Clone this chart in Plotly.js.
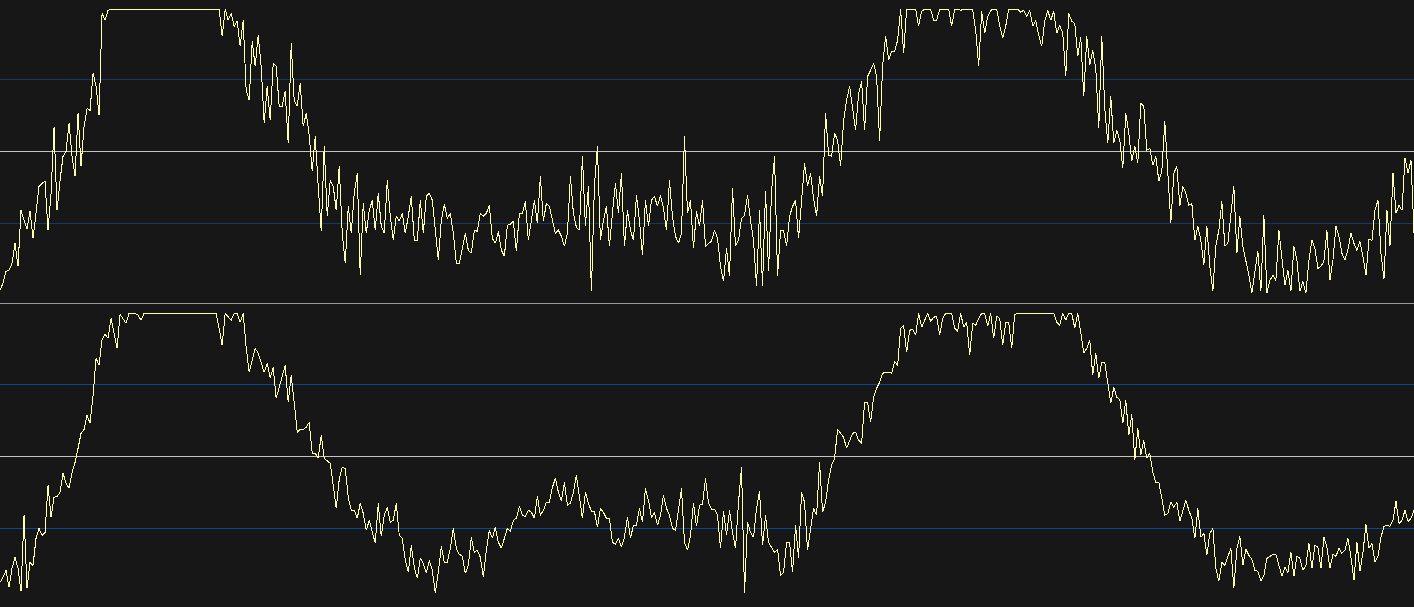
<!DOCTYPE html>
<html>
<head>
<meta charset="utf-8">
<script src="https://cdn.plot.ly/plotly-3.0.1.min.js"></script>
<style>
  html, body { margin: 0; padding: 0; background: #171717; overflow: hidden; }
  #chart { width: 1414px; height: 607px; }
  .js-line { shape-rendering: crispEdges; }
</style>
</head>
<body>
<div id="chart"></div>
<script>
// Oscillator readings, one sample per step, in the range -144..144 (gridlines at ±72).
const upperSignal = [
  -139,-132,-120,-119,-112,-92,-115,-59,-69,-78,
  -60,-87,-62,-35,-32,-30,-79,-42,24,-59,
  -29,-5,0,28,-5,-25,38,-15,25,43,
  41,78,65,36,138,131,141,
  142,142,142,142,142,142,142,142,142,142,142,142,142,142,142,142,142,142,142,
  142,142,142,142,142,142,142,142,142,142,142,142,142,142,142,142,142,142,
  115,142,131,138,125,
  130,105,131,61,51,110,85,116,85,28,
  65,31,88,85,45,45,60,8,108,51,
  45,68,25,38,16,-20,15,-35,-80,5,
  -65,-29,-35,-59,-15,-82,-112,-55,-82,-42,
  -22,-124,-52,-82,-59,-49,-79,-42,-75,-82,
  -29,-65,-89,-65,-70,-62,-82,-65,-45,-89,
  -89,-49,-82,-45,-42,-49,-79,-109,-69,-53,
  -67,-62,-82,-112,-112,-95,-82,-99,-102,
  -79,-80,-62,-65,-62,-54,-87,-92,-80,-99,
  -105,-74,-73,-70,-100,-62,-62,-50,-89,-69,
  -49,-72,-25,-70,-52,-55,-69,-82,-79,-85,
  -95,-82,-25,-62,-76,-79,-5,-75,-35,-140,
  -35,5,-89,-69,-55,-95,-62,-32,-62,-22,
  -95,-59,-79,-89,-44,-69,-104,-49,-75,-49,
  -45,-55,-44,-57,-79,-29,-65,-85,-92,-82,
  15,-62,-49,-97,-60,-75,-49,-95,
  -92,-90,-79,-87,-115,-130,-97,-125,-37,-95,
  -89,-67,-64,-44,-69,-89,-135,-59,-135,-40,
  -120,-40,-5,-125,-79,-79,-95,-65,-55,-49,
  -87,-49,-12,-35,-22,-47,-65,-25,-45,38,
  -4,-5,18,11,-15,30,51,65,45,21,
  58,70,21,75,81,88,75,10,85,115,
  91,100,100,111,142,98,142,142,142,142,
  125,140,142,142,142,131,131,142,142,
  142,142,125,142,142,141,142,142,142,142,
  121,85,140,118,135,141,142,142,126,113,
  125,142,142,142,142,139,141,135,141,125,
  131,116,105,130,141,131,140,118,126,118,
  75,138,130,128,95,114,55,115,86,101,
  83,23,115,43,8,55,8,21,11,-17,
  38,18,-10,5,-12,48,45,1,3,-14,
  -5,-30,-20,30,-22,-72,-22,-15,-55,
  -35,-42,-54,-52,-89,-75,-89,-114,-75,-115,
  -140,-94,-79,-50,-95,-92,-65,-35,-102,-65,
  -95,-109,-124,-142,-122,-100,-140,-64,-142,-129,
  -124,-129,-79,-109,-134,-119,-140,-95,-109,-140,
  -130,-142,-109,-89,-97,-117,-115,-110,-79,-129,
  -109,-75,-85,-102,-109,-98,-82,-92,-99,-90,
  -105,-124,-88,-89,-59,-49,-102,-128,-59,-95,
  -22,-62,-54,-59,-7,-22,-9,-82
];

const lowerSignal = [
  -126,-121,-114,-131,-112,-101,-112,-135,-59,-132,
  -106,-109,-82,-72,-79,-76,-29,-61,-41,-40,
  -36,-17,-27,-32,-16,-6,8,23,27,41,
  33,61,98,91,117,122,118,138,123,108,
  142,137,133,143,143,143,141,136,143,
  143,143,143,143,143,143,143,143,143,143,143,143,
  143,143,143,143,143,143,143,143,143,143,143,143,
  128,111,143,140,136,143,
  143,134,143,109,84,96,108,103,94,84,
  93,78,89,58,69,81,91,54,81,54,
  24,27,27,29,34,3,3,-2,21,-2,
  -5,-7,-29,-52,-23,-11,-12,-41,-54,-54,
  -62,-47,-57,-74,-64,-76,-87,-47,-80,-59,
  -51,-66,-64,-47,-79,-82,-104,-116,-89,-111,
  -122,-102,-107,-117,-104,-114,-137,-116,-90,-106,
  -106,-92,-72,-92,-98,-100,-117,-109,-81,
  -96,-94,-101,-121,-94,-74,-82,-71,-86,-92,
  -82,-72,-75,-64,-62,-50,-59,-60,-54,-56,
  -62,-40,-59,-54,-46,-46,-31,-22,-36,-45,
  -26,-49,-47,-36,-19,-42,-62,-36,-47,-55,
  -55,-71,-52,-56,-62,-62,-86,-88,-82,-91,
  -81,-61,-82,-69,-69,-52,-66,-32,-44,-61,
  -56,-69,-59,-39,-52,-59,-72,-74,-52,-32,
  -86,-94,-79,-47,-70,-49,-48,-22,
  -47,-53,-53,-59,-92,-55,-79,-54,-76,-92,
  -46,-11,-137,-66,-76,-81,-52,-35,-89,-59,
  -86,-91,-96,-93,-119,-116,-86,-86,-116,-69,
  -102,-36,-46,-94,-72,-52,-59,-6,-56,-46,
  -24,-9,-2,27,23,19,8,15,23,24,
  16,13,54,54,34,59,68,74,83,84,
  84,83,95,91,128,131,104,126,127,121,
  143,129,137,143,135,139,140,121,138,
  143,143,143,128,125,143,129,134,101,133,
  131,138,143,143,130,143,118,140,138,111,
  134,134,108,142,143,143,143,143,143,143,
  143,143,143,143,143,143,143,134,131,143,
  136,143,143,128,143,124,103,108,116,81,
  103,78,94,94,73,53,69,59,57,33,
  56,21,42,-4,28,1,16,-2,3,-16,
  -26,-26,-42,-59,-57,-46,-51,-46,-65,
  -54,-44,-54,-62,-82,-52,-81,-77,-99,-77,
  -72,-112,-125,-106,-109,-101,-92,-132,-92,-80,
  -109,-93,-99,-103,-114,-115,-125,-119,-102,-100,
  -98,-98,-109,-120,-111,-116,-96,-120,-100,-102,
  -114,-109,-87,-112,-89,-91,-112,-81,-91,-112,
  -98,-100,-92,-97,-94,-82,-101,-124,-86,-115,
  -96,-68,-92,-87,-106,-100,-81,-70,-69,-70,
  -64,-45,-67,-64,-54,-65,-62,-54
];

const bandLevels = [-72, 72];
const valueRange = [-144, 144];

const upperSteps = upperSignal.map((_, i) => i);
const lowerSteps = lowerSignal.map((_, i) => i);

const lineStyle = { color: '#ffffb0', width: 1, shape: 'linear' };

const traces = [
  { x: upperSteps, y: upperSignal, xaxis: 'x', yaxis: 'y', type: 'scatter', mode: 'lines',
    line: lineStyle, hoverinfo: 'skip' },
  { x: lowerSteps, y: lowerSignal, xaxis: 'x2', yaxis: 'y2', type: 'scatter', mode: 'lines',
    line: lineStyle, hoverinfo: 'skip' }
];

function valueAxis(domain, gridColor) {
  return {
    domain: domain,
    range: valueRange,
    tickvals: bandLevels,
    showticklabels: false,
    ticks: '',
    showgrid: true,
    gridcolor: gridColor,
    gridwidth: 1,
    zeroline: true,
    zerolinecolor: '#c4c4c4',
    zerolinewidth: 1,
    showline: false,
    fixedrange: true
  };
}

function stepAxis(anchor, count) {
  return {
    anchor: anchor,
    range: [0, count - 1],
    visible: false,
    showgrid: false,
    zeroline: false,
    fixedrange: true
  };
}

const layout = {
  width: 1414,
  height: 607,
  margin: { l: 0, r: 0, t: 0, b: 0, pad: 0 },
  paper_bgcolor: '#171717',
  plot_bgcolor: '#171717',
  showlegend: false,
  xaxis: stepAxis('y', upperSignal.length),
  xaxis2: stepAxis('y2', lowerSignal.length),
  yaxis: valueAxis([0.5135, 0.9880], '#123a63'),
  yaxis2: valueAxis([0.0110, 0.4855], '#0b4a8e'),
  shapes: [
    { type: 'line', xref: 'paper', yref: 'paper', x0: 0, x1: 1, y0: 0.5, y1: 0.5,
      line: { color: '#9a9a9a', width: 1 } }
  ]
};

Plotly.newPlot('chart', traces, layout, { displayModeBar: false, staticPlot: true });
</script>
</body>
</html>
